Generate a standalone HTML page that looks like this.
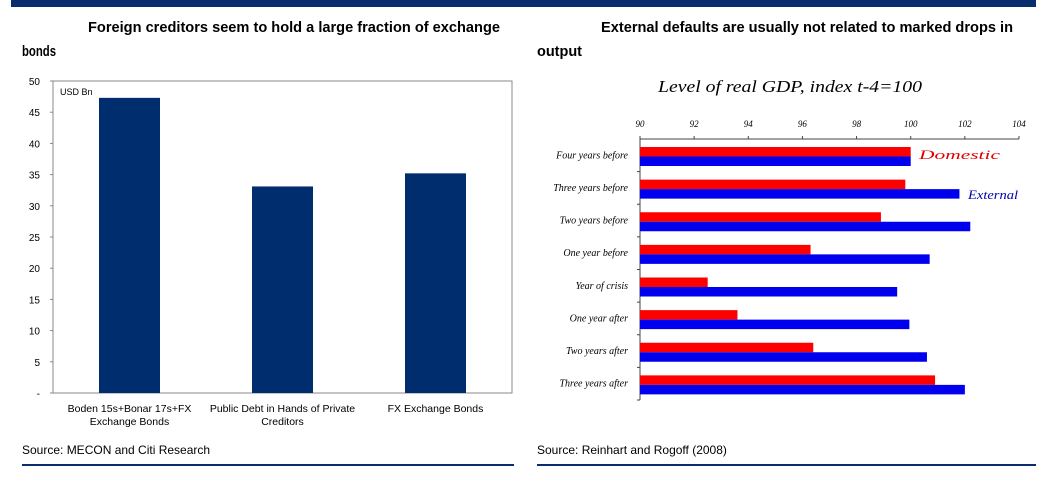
<!DOCTYPE html>
<html><head><meta charset="utf-8"><style>
body{margin:0;background:#fff;width:1048px;height:480px;overflow:hidden}
svg{display:block}
</style></head><body>
<svg id="root" width="1048" height="480" xmlns="http://www.w3.org/2000/svg">
<rect x="11" y="0" width="1025" height="7" fill="#0a2d6e"/>
<g font-family="'Liberation Sans Narrow','Liberation Sans',sans-serif" font-weight="bold" font-size="15" fill="#000">
<text x="88" y="32" textLength="412" lengthAdjust="spacingAndGlyphs">Foreign creditors seem to hold a large fraction of exchange</text>
<text x="22" y="56" textLength="34" lengthAdjust="spacingAndGlyphs">bonds</text>
<text x="601" y="32" textLength="412" lengthAdjust="spacingAndGlyphs">External defaults are usually not related to marked drops in</text>
<text x="537" y="56" textLength="45" lengthAdjust="spacingAndGlyphs">output</text>
</g>
<g id="left"></g>
<g id="right"></g>
<g font-family="'Liberation Sans',sans-serif" font-size="12" fill="#000">
<text x="22" y="454">Source: MECON and Citi Research</text>
<text x="537" y="454">Source: Reinhart and Rogoff (2008)</text>
</g>
<rect x="22" y="464" width="492" height="2" fill="#0a2d6e"/>
<rect x="537" y="464" width="499" height="2" fill="#0a2d6e"/>
</svg>
<script>
const leftCategories=[["Boden 15s+Bonar 17s+FX","Exchange Bonds"],["Public Debt in Hands of Private","Creditors"],["FX Exchange Bonds"]];
const leftValues=[47.3,33.1,35.2];
const leftTicks=[0,5,10,15,20,25,30,35,40,45,50];
const rightCategories=["Four years before","Three years before","Two years before","One year before","Year of crisis","One year after","Two years after","Three years after"];
const domesticValues=[100.0,99.8,98.9,96.3,92.5,93.6,96.4,100.9];
const externalValues=[100.0,101.8,102.2,100.7,99.5,99.95,100.6,102.0];
const rightTicks=[90,92,94,96,98,100,102,104];
const NS="http://www.w3.org/2000/svg";
function mk(p,t,a,txt){const e=document.createElementNS(NS,t);for(const k in a)e.setAttribute(k,a[k]);if(txt!==undefined)e.textContent=txt;p.appendChild(e);return e;}
// left chart
const L=document.getElementById('left');
const lx0=53,lx1=512,ly0=393,ly1=81;
const ly=v=>ly0+(ly1-ly0)*v/50;
let e=mk(L,'rect',{x:lx0,y:ly1,width:lx1-lx0,height:ly0-ly1,fill:'none',stroke:'#888','stroke-width':1});


leftTicks.forEach(t=>{
 let tk=mk(L,'line',{x1:lx0-3,x2:lx0,y1:ly(t),y2:ly(t),stroke:'#888'});
 
 
 let lb=mk(L,'text',{x:lx0-13,y:ly(t)+4,'text-anchor':'end','font-family':"'Liberation Sans Narrow','Liberation Sans',sans-serif",'font-size':10},t===0?'-':String(t));
 
 
});
let u=mk(L,'text',{x:60,y:95,'font-family':"'Liberation Sans',sans-serif",'font-size':9},'USD Bn');


const slot=(lx1-lx0)/3;
leftValues.forEach((v,i)=>{
 const cx=lx0+slot*(i+0.5);
 let b=mk(L,'rect',{x:cx-30.5,y:ly(v),width:61,height:ly0-ly(v),fill:'#002d6e'});
 
 
 leftCategories[i].forEach((ln,j)=>{
  let t=mk(L,'text',{x:cx,y:412+j*13,'text-anchor':'middle','font-family':"'Liberation Sans Narrow','Liberation Sans',sans-serif",'font-size':10.5},ln);
  
  
 });
});
// right chart
const R=document.getElementById('right');
const rx0=640,rx1=1019,ry0=139,ry1=400;
const rx=v=>rx0+(rx1-rx0)*(v-90)/14;
const band=(ry1-ry0)/rightCategories.length;
const serif="'Liberation Serif',serif";
let ti=mk(R,'text',{x:658,y:92,'font-family':serif,'font-style':'italic','font-size':17,textLength:264,lengthAdjust:'spacingAndGlyphs'},'Level of real GDP, index t-4=100');


let ax=mk(R,'line',{x1:rx0,x2:rx1,y1:ry0,y2:ry0,stroke:'#444'});


let ay=mk(R,'line',{x1:rx0,x2:rx0,y1:ry0,y2:ry1,stroke:'#444'});


rightTicks.forEach(t=>{
 let tk=mk(R,'line',{x1:rx(t),x2:rx(t),y1:ry0-3,y2:ry0,stroke:'#444'});
 
 
 let lb=mk(R,'text',{x:rx(t),y:127,'text-anchor':'middle','font-family':serif,'font-style':'italic','font-size':9},String(t));
 
 
});
rightCategories.forEach((c,i)=>{
 const y0=ry0+band*i;
 let tk=mk(R,'line',{x1:rx0-3,x2:rx0,y1:y0+band,y2:y0+band,stroke:'#444'});
 
 
 let lb=mk(R,'text',{x:rx0-12,y:y0+band/2+3,'text-anchor':'end','font-family':serif,'font-style':'italic','font-size':10},c);
 
 
 let d=mk(R,'rect',{x:rx0,y:y0+8,width:rx(domesticValues[i])-rx0,height:9.5,fill:'#ff0000'});
 
 
 let x=mk(R,'rect',{x:rx0,y:y0+17.5,width:rx(externalValues[i])-rx0,height:9.5,fill:'#0000ee'});
 
 
});
let l1=mk(R,'text',{x:919,y:159,'font-family':serif,'font-style':'italic','font-size':13,fill:'#e00000',textLength:81,lengthAdjust:'spacingAndGlyphs'},'Domestic');


let l2=mk(R,'text',{x:968,y:199,'font-family':serif,'font-style':'italic','font-size':13,fill:'#0000aa',textLength:50,lengthAdjust:'spacingAndGlyphs'},'External');


</script>
</body></html>
